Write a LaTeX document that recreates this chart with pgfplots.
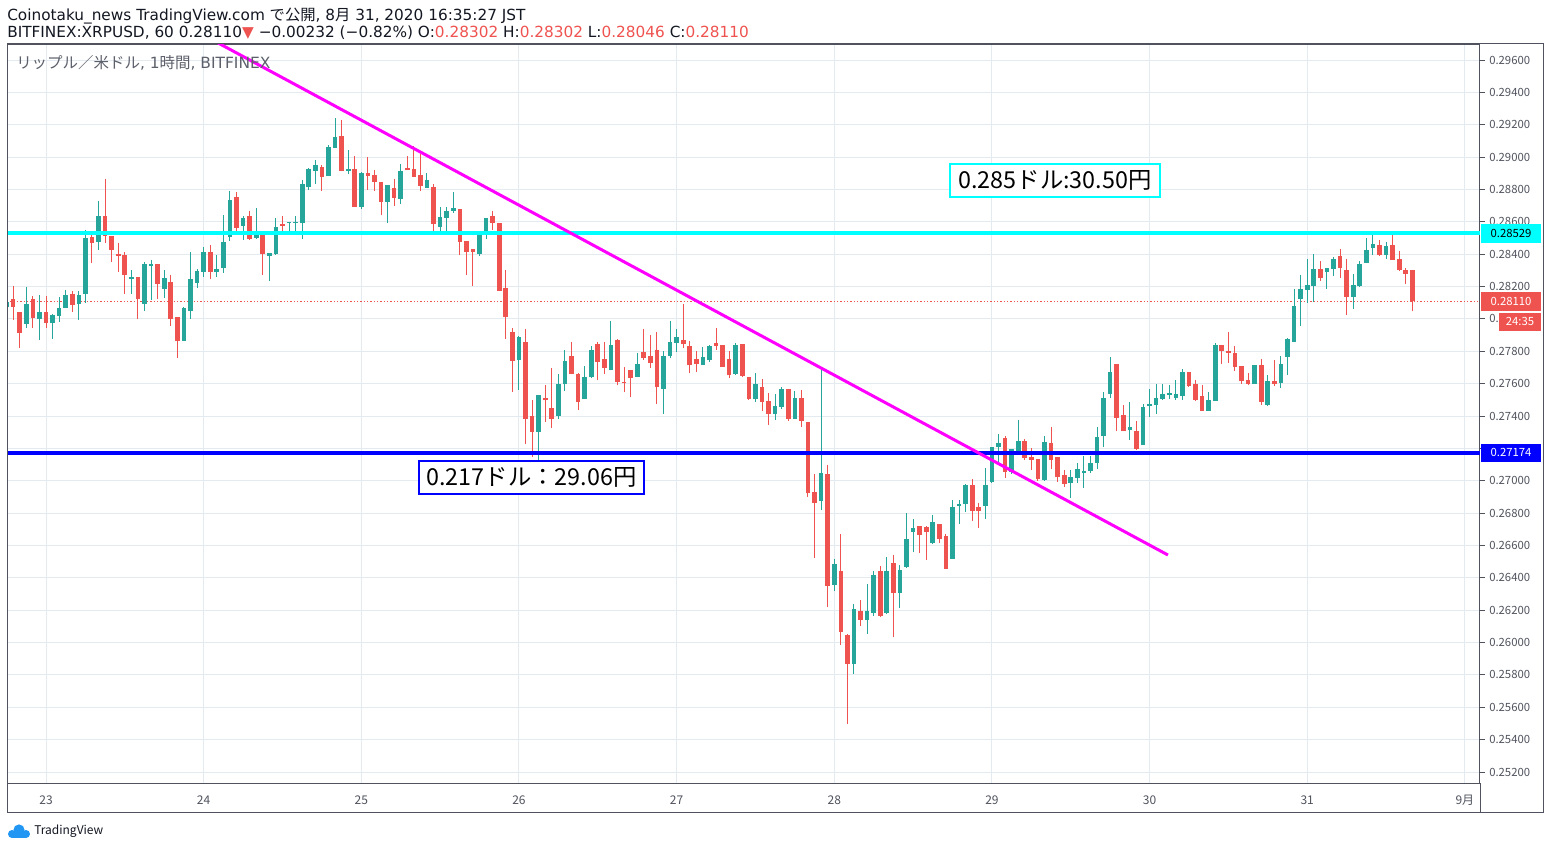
\documentclass[border=0pt]{standalone}
\usepackage{pgfplots}
\pgfplotsset{compat=1.18}
\usepackage{pgfplotstable}
\usepackage{fontspec}
\setmainfont{DejaVu Sans}
\newfontfamily\cjk{Noto Sans CJK JP}
\definecolor{up}{HTML}{26A69A}
\definecolor{dn}{HTML}{EF5350}
\definecolor{gridc}{HTML}{E3EBF1}
\definecolor{frame}{HTML}{50535E}
\definecolor{txt}{HTML}{131722}
\definecolor{axtxt}{HTML}{50535E}
\definecolor{ttlc}{HTML}{5D606B}
\definecolor{cyanl}{HTML}{00FFFF}
\definecolor{bluel}{HTML}{0000FF}
\definecolor{magl}{HTML}{FF00FF}
\definecolor{tvb}{HTML}{2196F3}
\newcommand\hdr{\fontsize{11.48}{13}\selectfont}
\newcommand\tck{\cjk\fontsize{8.5}{10}\selectfont}
\newcommand\ann{\cjk\fontsize{17.5}{20}\selectfont}
\pgfplotstableread{
t o h l c
-6 0.28075 0.28123 0.27958 0.28104
-5 0.28123 0.28203 0.27993 0.28075
-4 0.28043 0.28043 0.27822 0.27915
-3 0.27970 0.28197 0.27946 0.28092
-2 0.28123 0.28142 0.27946 0.28008
-1 0.28001 0.28148 0.27870 0.28043
0 0.28043 0.28142 0.27946 0.27977
1 0.27977 0.28031 0.27876 0.28024
2 0.28020 0.28136 0.27983 0.28068
3 0.28069 0.28179 0.28069 0.28148
4 0.28154 0.28173 0.28045 0.28088
5 0.28094 0.28173 0.27995 0.28148
6 0.28156 0.28550 0.28100 0.28500
7 0.28506 0.28519 0.28348 0.28471
8 0.28477 0.28729 0.28426 0.28636
9 0.28636 0.28865 0.28471 0.28513
10 0.28513 0.28513 0.28354 0.28428
11 0.28399 0.28469 0.28290 0.28389
12 0.28395 0.28413 0.28156 0.28271
13 0.28249 0.28302 0.28156 0.28255
14 0.28255 0.28255 0.28001 0.28125
15 0.28094 0.28352 0.28051 0.28340
16 0.28329 0.28364 0.28119 0.28340
17 0.28340 0.28340 0.28125 0.28218
18 0.28187 0.28302 0.28131 0.28253
19 0.28228 0.28271 0.27956 0.28001
20 0.28012 0.28012 0.27758 0.27865
21 0.27865 0.28074 0.27865 0.28068
22 0.28049 0.28413 0.27999 0.28247
23 0.28222 0.28308 0.28191 0.28296
24 0.28292 0.28444 0.28261 0.28413
25 0.28413 0.28457 0.28249 0.28292
26 0.28292 0.28395 0.28261 0.28308
27 0.28317 0.28642 0.28286 0.28475
28 0.28508 0.28791 0.28484 0.28735
29 0.28754 0.28784 0.28539 0.28564
30 0.28576 0.28636 0.28490 0.28624
31 0.28636 0.28667 0.28490 0.28496
32 0.28502 0.28686 0.28496 0.28519
33 0.28525 0.28531 0.28273 0.28403
34 0.28391 0.28407 0.28236 0.28407
35 0.28403 0.28624 0.28397 0.28568
36 0.28587 0.28636 0.28527 0.28576
37 0.28595 0.28597 0.28527 0.28597
38 0.28597 0.28636 0.28521 0.28599
39 0.28595 0.28859 0.28496 0.28834
40 0.28815 0.28933 0.28797 0.28926
41 0.28914 0.28982 0.28834 0.28951
42 0.28939 0.28951 0.28791 0.28877
43 0.28883 0.29075 0.28883 0.29062
44 0.29056 0.29242 0.29056 0.29124
45 0.29130 0.29229 0.28914 0.28914
46 0.28914 0.29044 0.28896 0.28926
47 0.28926 0.29007 0.28692 0.28692
48 0.28692 0.28908 0.28679 0.28902
49 0.28902 0.29001 0.28797 0.28883
50 0.28889 0.28920 0.28791 0.28846
51 0.28846 0.28846 0.28642 0.28722
52 0.28722 0.28828 0.28593 0.28828
53 0.28809 0.28865 0.28698 0.28747
54 0.28741 0.28957 0.28710 0.28914
55 0.28933 0.29007 0.28920 0.28920
56 0.28926 0.29069 0.28877 0.28877
57 0.28889 0.29019 0.28791 0.28821
58 0.28809 0.28902 0.28809 0.28859
59 0.28815 0.28834 0.28537 0.28587
60 0.28568 0.28692 0.28537 0.28630
61 0.28624 0.28692 0.28543 0.28667
62 0.28667 0.28784 0.28655 0.28686
63 0.28679 0.28679 0.28395 0.28475
64 0.28481 0.28481 0.28271 0.28413
65 0.28432 0.28432 0.28205 0.28415
66 0.28403 0.28537 0.28391 0.28531
67 0.28533 0.28624 0.28496 0.28624
68 0.28636 0.28667 0.28551 0.28595
69 0.28593 0.28593 0.28174 0.28174
70 0.28191 0.28302 0.27878 0.28014
71 0.27919 0.27944 0.27550 0.27742
72 0.27748 0.27894 0.27563 0.27888
73 0.27857 0.27938 0.27229 0.27383
74 0.27400 0.27499 0.27148 0.27303
75 0.27303 0.27528 0.27128 0.27528
76 0.27509 0.27590 0.27365 0.27497
77 0.27447 0.27695 0.27328 0.27380
78 0.27402 0.27658 0.27383 0.27596
79 0.27596 0.27806 0.27556 0.27738
80 0.27769 0.27855 0.27658 0.27658
81 0.27658 0.27664 0.27439 0.27485
82 0.27503 0.27707 0.27503 0.27639
83 0.27639 0.27831 0.27633 0.27806
84 0.27843 0.27855 0.27621 0.27732
85 0.27750 0.27855 0.27658 0.27695
86 0.27682 0.27985 0.27682 0.27837
87 0.27868 0.27874 0.27590 0.27608
88 0.27608 0.27701 0.27546 0.27602
89 0.27684 0.27684 0.27519 0.27637
90 0.27643 0.27789 0.27643 0.27721
91 0.27795 0.27938 0.27746 0.27758
92 0.27771 0.27900 0.27697 0.27728
93 0.27808 0.27919 0.27476 0.27581
94 0.27569 0.27802 0.27414 0.27771
95 0.27771 0.27987 0.27758 0.27857
96 0.27851 0.27938 0.27795 0.27888
97 0.27870 0.28092 0.27820 0.27845
98 0.27833 0.27864 0.27666 0.27715
99 0.27752 0.27802 0.27672 0.27721
100 0.27715 0.27826 0.27715 0.27765
101 0.27746 0.27839 0.27734 0.27833
102 0.27851 0.27944 0.27808 0.27833
103 0.27839 0.27839 0.27703 0.27703
104 0.27752 0.27802 0.27635 0.27653
105 0.27660 0.27851 0.27653 0.27839
106 0.27845 0.27845 0.27641 0.27647
107 0.27641 0.27641 0.27499 0.27505
108 0.27505 0.27666 0.27486 0.27598
109 0.27579 0.27629 0.27431 0.27486
110 0.27493 0.27542 0.27344 0.27412
111 0.27412 0.27536 0.27375 0.27462
112 0.27456 0.27579 0.27443 0.27567
113 0.27567 0.27567 0.27369 0.27381
114 0.27381 0.27554 0.27381 0.27511
115 0.27511 0.27561 0.27332 0.27369
116 0.27363 0.27363 0.26899 0.26924
117 0.26930 0.27042 0.26522 0.26862
118 0.26875 0.27690 0.26819 0.27048
119 0.27042 0.27097 0.26220 0.26349
120 0.26356 0.26516 0.26318 0.26485
121 0.26442 0.26671 0.25985 0.26065
122 0.26047 0.26053 0.25497 0.25867
123 0.25867 0.26238 0.25806 0.26207
124 0.26195 0.26263 0.26102 0.26139
125 0.26139 0.26362 0.26053 0.26195
126 0.26182 0.26442 0.26164 0.26417
127 0.26442 0.26473 0.26158 0.26164
128 0.26182 0.26529 0.26176 0.26442
129 0.26491 0.26541 0.26034 0.26306
130 0.26306 0.26479 0.26213 0.26448
131 0.26467 0.26800 0.26461 0.26640
132 0.26683 0.26763 0.26559 0.26708
133 0.26720 0.26720 0.26553 0.26665
134 0.26714 0.26720 0.26510 0.26683
135 0.26615 0.26788 0.26609 0.26745
136 0.26733 0.26733 0.26615 0.26640
137 0.26658 0.26671 0.26454 0.26456
138 0.26518 0.26881 0.26518 0.26838
139 0.26846 0.26881 0.26733 0.26856
140 0.26858 0.26980 0.26807 0.26974
141 0.26974 0.27011 0.26751 0.26815
142 0.26838 0.26862 0.26708 0.26815
143 0.26846 0.27079 0.26765 0.26974
144 0.26994 0.27208 0.26988 0.27208
145 0.27208 0.27289 0.27118 0.27233
146 0.27264 0.27276 0.27019 0.27056
147 0.27056 0.27196 0.27043 0.27196
148 0.27176 0.27375 0.27176 0.27245
149 0.27245 0.27258 0.27130 0.27142
150 0.27147 0.27202 0.27068 0.27130
151 0.27134 0.27134 0.27000 0.27012
152 0.27006 0.27276 0.27000 0.27239
153 0.27233 0.27332 0.27074 0.27130
154 0.27147 0.27147 0.26994 0.27025
155 0.27037 0.27068 0.26963 0.26982
156 0.26988 0.27068 0.26895 0.27023
157 0.27019 0.27110 0.26988 0.27072
158 0.27050 0.27153 0.26957 0.27062
159 0.27062 0.27153 0.27050 0.27110
160 0.27111 0.27332 0.27074 0.27270
161 0.27278 0.27548 0.27210 0.27511
162 0.27538 0.27765 0.27513 0.27672
163 0.27721 0.27721 0.27309 0.27389
164 0.27406 0.27468 0.27309 0.27309
165 0.27315 0.27486 0.27254 0.27332
166 0.27307 0.27369 0.27192 0.27198
167 0.27223 0.27474 0.27223 0.27456
168 0.27464 0.27567 0.27396 0.27474
169 0.27470 0.27598 0.27414 0.27511
170 0.27505 0.27598 0.27499 0.27536
171 0.27532 0.27592 0.27505 0.27542
172 0.27513 0.27622 0.27499 0.27536
173 0.27525 0.27690 0.27501 0.27672
174 0.27672 0.27672 0.27581 0.27587
175 0.27598 0.27622 0.27495 0.27501
176 0.27524 0.27592 0.27433 0.27433
177 0.27433 0.27548 0.27433 0.27499
178 0.27495 0.27851 0.27495 0.27839
179 0.27839 0.27839 0.27723 0.27804
180 0.27802 0.27919 0.27729 0.27791
181 0.27789 0.27833 0.27680 0.27705
182 0.27709 0.27709 0.27600 0.27618
183 0.27622 0.27666 0.27593 0.27600
184 0.27598 0.27715 0.27598 0.27715
185 0.27715 0.27752 0.27470 0.27488
186 0.27470 0.27653 0.27464 0.27616
187 0.27616 0.27746 0.27587 0.27600
188 0.27606 0.27771 0.27575 0.27721
189 0.27766 0.27882 0.27655 0.27876
190 0.27859 0.28185 0.27859 0.28080
191 0.28125 0.28271 0.27958 0.28185
192 0.28180 0.28370 0.28100 0.28210
193 0.28205 0.28401 0.28106 0.28308
194 0.28308 0.28358 0.28236 0.28255
195 0.28292 0.28315 0.28187 0.28315
196 0.28310 0.28383 0.28267 0.28370
197 0.28389 0.28432 0.28255 0.28317
198 0.28302 0.28370 0.28026 0.28137
199 0.28137 0.28278 0.28063 0.28210
200 0.28205 0.28358 0.28199 0.28340
201 0.28348 0.28500 0.28348 0.28426
202 0.28440 0.28531 0.28395 0.28463
203 0.28457 0.28488 0.28391 0.28397
204 0.28397 0.28475 0.28372 0.28451
205 0.28457 0.28531 0.28366 0.28366
206 0.28370 0.28420 0.28298 0.28304
207 0.28302 0.28315 0.28218 0.28279
208 0.28302 0.28302 0.28046 0.28110
}\candles
\begin{document}
\begin{tikzpicture}
\useasboundingbox (0,0) rectangle (1162.5pt,-636.75pt);
\fill[white] (0,0) rectangle (1162.5pt,-636.75pt);
\begin{axis}[
  at={(5.25pt,-587.25pt)}, anchor=south west,
  scale only axis, width=1104.75pt, height=554.25pt,
  xmin=-5.937, xmax=218.3, ymin=0.25132, ymax=0.29699,
  axis line style={draw=frame, line width=0.75pt},
  xtick={0,24,48,72,96,120,144,168,192,216},
  xticklabels={23,24,25,26,27,28,29,30,31,9月},
  ytick={0.252,0.254,0.256,0.258,0.260,0.262,0.264,0.266,0.268,0.270,0.272,0.274,0.276,0.278,0.280,0.282,0.284,0.286,0.288,0.290,0.292,0.294,0.296},
  yticklabels={0.25200,0.25400,0.25600,0.25800,0.26000,0.26200,0.26400,0.26600,0.26800,0.27000,{},0.27400,0.27600,0.27800,0.28000,0.28200,0.28400,0.28600,0.28800,0.29000,0.29200,0.29400,0.29600},
  scaled y ticks=false,
  yticklabel style={font=\tck, text=axtxt, anchor=west, inner sep=0pt, xshift=3pt},
  xticklabel style={font=\cjk\fontsize{9}{10}\selectfont, text=axtxt, anchor=base, inner sep=0pt, yshift=-12.35pt},
  ytick pos=right, yticklabel pos=right,
  tick align=outside, major tick length=3.75pt,
  xtick style={draw=none},
  ytick style={draw=frame, line width=0.75pt},
  xmajorgrids, ymajorgrids,
  major grid style={draw=gridc, line width=0.75pt},
]
% current price line
\addplot[dn, line width=0.75pt, dash pattern=on 0.9pt off 1.6pt, forget plot] coordinates {(-10,0.28110) (230,0.28110)};
% rising candles: wicks (low to high) and bodies (open to close)
\addplot[draw=none, mark=none, forget plot,
  restrict expr to domain={\thisrow{c}-\thisrow{o}}{0:1},
  error bars/.cd, y dir=plus, y explicit, error mark=none,
  error bar style={draw=up, line width=0.75pt, solid}]
  table[x=t, y=l, y error expr=\thisrow{h}-\thisrow{l}]{\candles};
\addplot[draw=none, mark=none, forget plot,
  restrict expr to domain={\thisrow{c}-\thisrow{o}}{0:1},
  error bars/.cd, y dir=plus, y explicit, error mark=none,
  error bar style={draw=up, line width=3.5pt, solid}]
  table[x=t, y=o, y error expr=\thisrow{c}-\thisrow{o}+0.00001]{\candles};
% falling candles
\addplot[draw=none, mark=none, forget plot,
  restrict expr to domain={\thisrow{c}-\thisrow{o}}{-1:-0.0000001},
  error bars/.cd, y dir=plus, y explicit, error mark=none,
  error bar style={draw=dn, line width=0.75pt, solid}]
  table[x=t, y=l, y error expr=\thisrow{h}-\thisrow{l}]{\candles};
\addplot[draw=none, mark=none, forget plot,
  restrict expr to domain={\thisrow{c}-\thisrow{o}}{-1:-0.0000001},
  error bars/.cd, y dir=plus, y explicit, error mark=none,
  error bar style={draw=dn, line width=3.5pt, solid}]
  table[x=t, y=c, y error expr=\thisrow{o}-\thisrow{c}+0.00001]{\candles};
% horizontal levels
\addplot[cyanl, line width=3pt, forget plot] coordinates {(-10,0.28529) (230,0.28529)};
\addplot[bluel, line width=3pt, forget plot] coordinates {(-10,0.27174) (230,0.27174)};
% trend line
\addplot[magl, line width=2.25pt, forget plot] coordinates {(20,0.29841) (170.8,0.26541)};
\end{axis}
\begin{scope}[x=0.75pt, y=-0.75pt]
\draw[frame, line width=0.75pt] (7,44) rectangle (1543,812);
\draw[frame, line width=0.75pt] (1480,783) -- (1480,812);
% header
\node[anchor=base west, inner sep=0pt, font=\hdr, text=txt] at (7,20.5)
  {Coinotaku\_news TradingView.com {\cjk で公開}, 8{\cjk 月} 31, 2020 16:35:27 JST};
\node[anchor=base west, inner sep=0pt, font=\hdr, text=txt] at (7,37.5)
  {BITFINEX:XRPUSD, 60 0.28110\textcolor{dn}{▼} −0.00232 (−0.82\%) O:\textcolor{dn}{0.28302} H:\textcolor{dn}{0.28302} L:\textcolor{dn}{0.28046} C:\textcolor{dn}{0.28110}};
\node[anchor=base west, inner sep=0pt, font=\fontsize{11.6}{13}\selectfont, text=ttlc] at (16,68.3)
  {{\cjk リップル／米ドル}, 1{\cjk 時間}, BITFINEX};
% annotation boxes
\draw[cyanl, line width=1.5pt, fill=white] (950,164) rectangle (1160,197);
\node[font=\ann, text=black, inner sep=0pt] at (1055,180.5) {0.285ドル:30.50円};
\draw[bluel, line width=1.5pt, fill=white] (419,461) rectangle (644,494);
\node[font=\ann, text=black, inner sep=0pt] at (531.5,477.5) {0.217ドル：29.06円};
% price scale labels
\fill[cyanl] (1481,224) rectangle (1541,242.5);
\node[font=\tck, text=black, inner sep=0pt] at (1511,233.3) {0.28529};
\fill[dn] (1481,292) rectangle (1541,310.5);
\node[font=\tck, text=white, inner sep=0pt] at (1511,301.2) {0.28110};
\fill[dn] (1499,312.5) rectangle (1541,331);
\node[font=\tck, text=white, inner sep=0pt] at (1520,321.8) {24:35};
\fill[bluel] (1481,443.5) rectangle (1541,461.5);
\node[font=\tck, text=white, inner sep=0pt] at (1511,452.5) {0.27174};
% logo
\fill[tvb] (12,834) circle (3pt);
\fill[tvb] (19,830) circle (4.2pt);
\fill[tvb] (26,834) circle (3pt);
\fill[tvb] (12,834) rectangle (26,838);
\node[anchor=base west, inner sep=0pt, font=\cjk\fontsize{9}{10}\selectfont, text=txt] at (34,834.5) {TradingView};
\end{scope}
\end{tikzpicture}
\end{document}
